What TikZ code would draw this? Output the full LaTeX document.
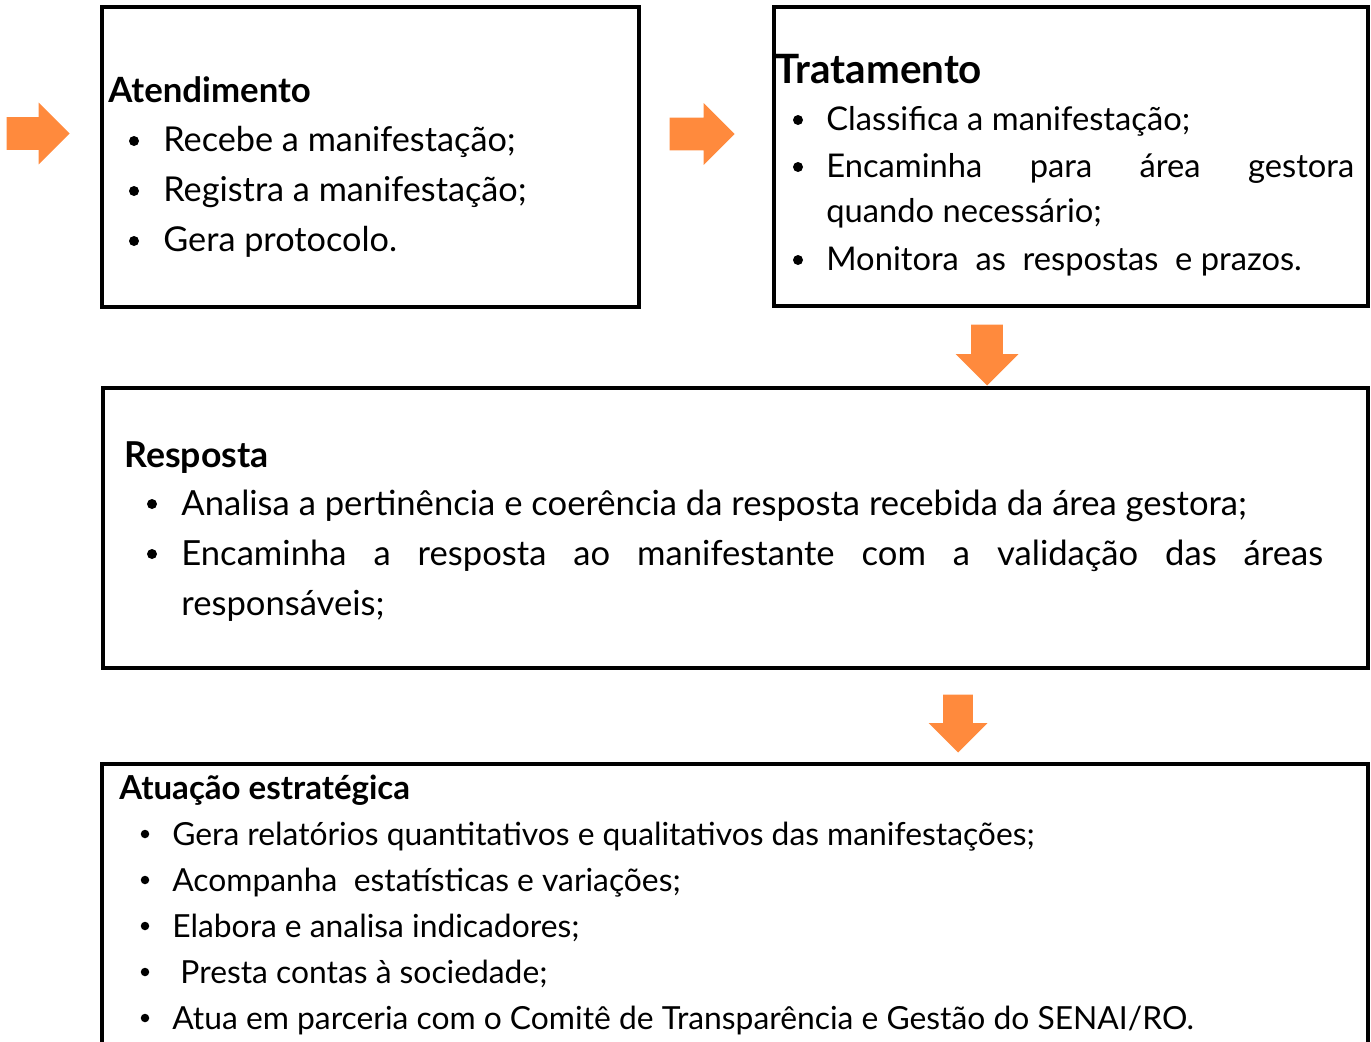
\documentclass[tikz,border=0pt]{standalone}
\usepackage{fontspec}
\setmainfont{Lato}
\usetikzlibrary{shapes.arrows,positioning}
\definecolor{flow}{RGB}{255,138,61}
\newcommand{\fs}[1]{\fontsize{#1}{#1}\selectfont}
\tikzset{
  box/.style={draw,line width=2.2pt,shape=rectangle,inner sep=0},
  heading/.style={anchor=base west,inner sep=0,font=\bfseries\fs{19.8}},
  itemtxt/.style={anchor=base west,inner sep=0,font=\fs{19.5}},
  dot/.style={circle,fill=black,inner sep=0,minimum size=0.2cm},
  flowarrow/.style={single arrow,fill=flow,draw=none,inner xsep=0,single arrow tip angle=90,anchor=tip},
  rarrow/.style={flowarrow,inner ysep=0.32cm,single arrow head extend=0.29cm},
  darrow/.style={flowarrow,rotate=-90}
}
\begin{document}
\begin{tikzpicture}[x=0.02cm,y=-0.02cm]
    \useasboundingbox (0,0) rectangle (1371,1041);

    % boxes
    \node (aten) [box,minimum width=537*0.02cm,minimum height=300*0.02cm] at (370.5,157) {};
    \node (trat) [box,minimum width=594*0.02cm,minimum height=299*0.02cm] at (1071,156.5) {};
    \node (resp) [box,minimum width=1265*0.02cm,minimum height=280*0.02cm] at (735.5,528) {};
    \node (atua) [box,minimum width=1266*0.02cm,minimum height=320*0.02cm] at (735,924) {};

    % arrows (placed by their tips)
    \node (arr1) [rarrow,minimum height=63*0.02cm] at (70,133.5) {};
    \node (arr2) [rarrow,minimum height=65*0.02cm] at (735,134) {};
    \node (arr3) [darrow,minimum height=61*0.02cm,inner ysep=0.31cm,single arrow head extend=0.31cm] at (987,386) {};
    \node (arr4) [darrow,minimum height=58*0.02cm,inner ysep=0.29cm,single arrow head extend=0.29cm] at (958,753) {};

    % Atendimento
    \node (aten-title) [heading] at (108,102) {Atendimento};
    \foreach \txt [count=\i] in {{Recebe a manifestação;},{Registra a manifestação;},{Gera protocolo.}} {
      \node (aten-dot\i) [dot] at (134,141+50*\i-50) {};
      \node (aten-item\i) [itemtxt] at (163,151+50*\i-50) {\txt};
    }

    % Tratamento
    \node (trat-title) [heading,font=\bfseries\fs{23}] at (775,83) {Tratamento};
    \foreach \y in {120,167,260} {
      \node [dot] at (798,\y) {};
    }
    \node (trat-item1) [itemtxt,font=\fs{18.6}] at (826,130) {Classifica a manifestação;};
    \node (trat-item2) [itemtxt,font=\fs{18.6}] at (826,177) {\makebox[10.56cm][s]{Encaminha\hfill para\hfill área\hfill gestora}};
    \node (trat-item2b) [itemtxt,font=\fs{18.6}] at (826,222) {quando necessário;};
    \node (trat-item3) [itemtxt,font=\fs{18.6}] at (826,270) {Monitora\ \ as\ \ respostas\ \ e prazos.};

    % Resposta
    \node (resp-title) [heading,font=\bfseries\fs{20.3}] at (124,467) {Resposta};
    \foreach \y in {504,554} {
      \node [dot] at (152,\y) {};
    }
    \node (resp-item1) [itemtxt,font=\fs{19.7}] at (181,515) {Analisa a pertinência e coerência da resposta recebida da área gestora;};
    \node (resp-item2) [itemtxt,font=\fs{19.7}] at (181,565) {\makebox[22.84cm][s]{Encaminha a resposta ao manifestante com a validação das áreas}};
    \node (resp-item2b) [itemtxt,font=\fs{19.7}] at (181,615) {responsáveis;};

    % Atuacao estrategica
    \node (atua-title) [heading,font=\bfseries\fs{18.8}] at (119,799) {Atuação estratégica};
    \foreach \txt [count=\i] in {{Gera relatórios quantitativos e qualitativos das manifestações;},{Acompanha\ \ estatísticas e variações;},{Elabora e analisa indicadores;},{\ Presta contas à sociedade;},{Atua em parceria com o Comitê de Transparência e Gestão do SENAI/RO.}} {
      \node (atua-dot\i) [dot,minimum size=0.17cm] at (145,834+46*\i-46) {};
      \node (atua-item\i) [itemtxt,font=\fs{18.1}] at (172,845+46*\i-46) {\txt};
    }
\end{tikzpicture}
\end{document}
